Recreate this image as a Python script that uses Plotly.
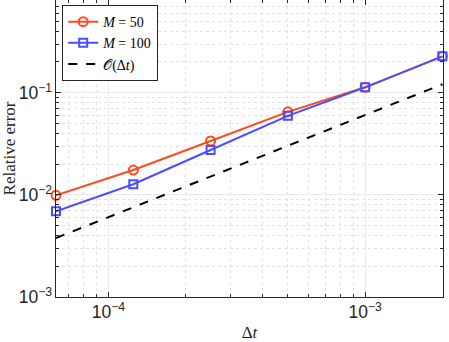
import numpy as np
import plotly.graph_objects as go

# step sizes and relative errors
dt = [6.25e-5, 1.25e-4, 2.5e-4, 5e-4, 1e-3, 2e-3]
err_m50 = [0.0099, 0.0175, 0.0337, 0.065, 0.113, 0.227]
err_m100 = [0.0069, 0.0127, 0.0275, 0.0594, 0.113, 0.227]

# first-order reference line
ref_dt = [6.25e-5, 2e-3]
ref_err = [0.00378, 0.121]

red = "#FF4A1C"
blue = "#4D4DFF"
serif = "Liberation Serif, DejaVu Serif, serif"
sans = "Liberation Sans, Arial, sans-serif"

fig = go.Figure()

fig.add_trace(go.Scatter(
    x=dt, y=err_m50, mode="lines+markers", name="<i>M</i> = 50",
    line=dict(color=red, width=2), cliponaxis=False,
    marker=dict(symbol="circle-open", size=9, color=red, line=dict(width=2))
))
fig.add_trace(go.Scatter(
    x=dt, y=err_m100, mode="lines+markers", name="<i>M</i> = 100",
    line=dict(color=blue, width=2), cliponaxis=False,
    marker=dict(symbol="square-open", size=8, color=blue, line=dict(width=2))
))
fig.add_trace(go.Scatter(
    x=ref_dt, y=ref_err, mode="lines", name="𝒪(Δ<i>t</i>)",
    line=dict(color="black", width=2, dash="dash")
))

axis_common = dict(
    type="log",
    automargin=False,
    showline=True,
    linecolor="#262626",
    linewidth=1,
    mirror="ticks",
    ticks="inside",
    ticklen=5,
    tickcolor="#262626",
    showgrid=True,
    gridcolor="#EBEBEB",
    gridwidth=1,
    zeroline=False,
    exponentformat="power",
    dtick=1,
    tickfont=dict(family=sans, size=14, color="#262626"),
    minor=dict(ticks="inside", ticklen=3, tickcolor="#262626",
               showgrid=True, gridcolor="#E2E2E2", griddash="dot"),
)

fig.update_xaxes(
    **axis_common,
    range=[np.log10(6.25e-5), np.log10(2.01e-3)],
    title=dict(text="Δ<i>t</i>", font=dict(family=serif, size=17, color="#262626"),
               standoff=10),
)
fig.update_yaxes(
    **axis_common,
    range=[-3, -0.092],
    title=dict(text="Relative error", font=dict(family=serif, size=17, color="#262626"),
               standoff=14),
)

fig.update_layout(
    width=449,
    height=342,
    margin=dict(l=56, r=6, t=0, b=45),
    plot_bgcolor="white",
    paper_bgcolor="white",
    showlegend=True,
    legend=dict(
        x=0.016, y=0.983, xanchor="left", yanchor="top",
        bgcolor="white", bordercolor="#262626", borderwidth=1,
        font=dict(family=serif, size=14, color="black"),
        tracegroupgap=0, itemwidth=30,
    ),
)

fig.write_html("out.html", config={"displayModeBar": False},
               post_script="document.body.style.margin='0';")
